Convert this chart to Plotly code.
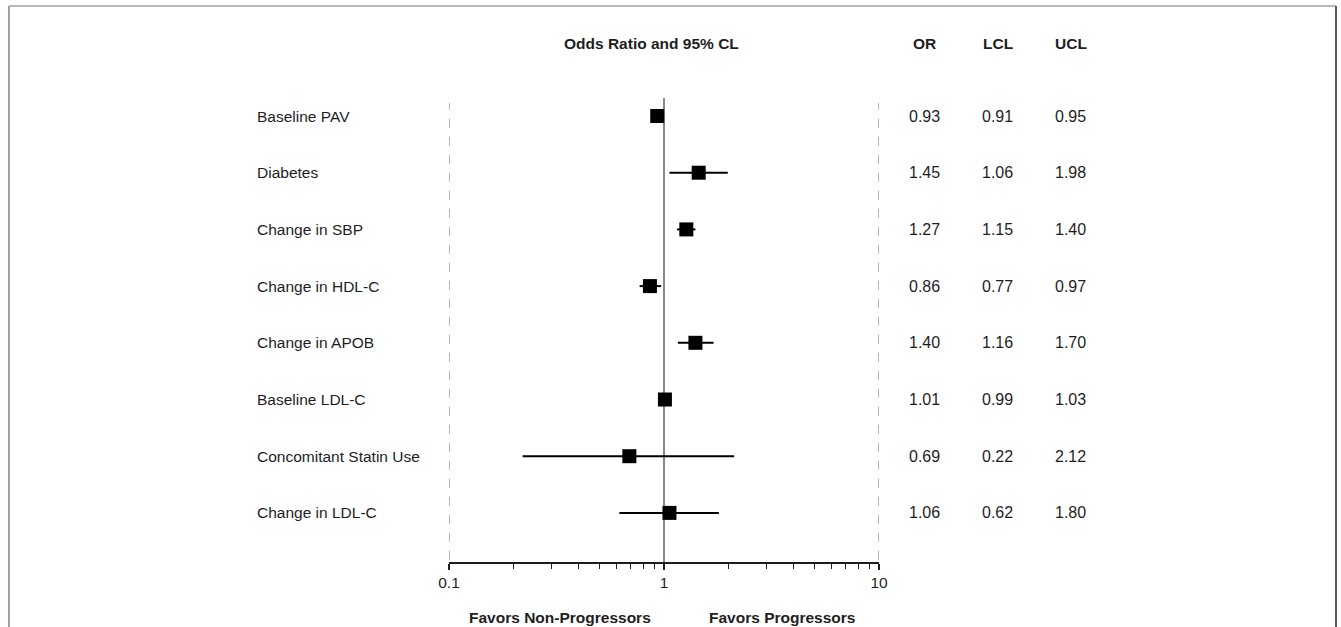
import plotly.graph_objects as go

labels = ["Baseline PAV", "Diabetes", "Change in SBP", "Change in HDL-C",
          "Change in APOB", "Baseline LDL-C", "Concomitant Statin Use", "Change in LDL-C"]
odds_ratio = [0.93, 1.45, 1.27, 0.86, 1.40, 1.01, 0.69, 1.06]
lcl = [0.91, 1.06, 1.15, 0.77, 1.16, 0.99, 0.22, 0.62]
ucl = [0.95, 1.98, 1.40, 0.97, 1.70, 1.03, 2.12, 1.80]
tick_vals = [0.1, 1, 10]
tick_text = ["0.1", "1", "10"]
minor_vals = [0.2, 0.3, 0.4, 0.5, 0.6, 0.7, 0.8, 0.9, 2, 3, 4, 5, 6, 7, 8, 9]
dashed_refs = [0.1, 10]
null_ref = 1
header = "Odds Ratio and 95% CL"
col_headers = ["OR", "LCL", "UCL"]
favors = ["Favors Non-Progressors", "Favors Progressors"]

rows = list(range(len(labels)))
FONT = "Liberation Sans, Arial, sans-serif"
TXT = "#1e1e1e"
LBL = 15.5
NUM = 16

fig = go.Figure()
fig.add_trace(go.Scatter(
    x=odds_ratio, y=rows, mode="markers",
    marker=dict(symbol="square", size=14, color="black"),
    error_x=dict(type="data", symmetric=False,
                 array=[u - o for u, o in zip(ucl, odds_ratio)],
                 arrayminus=[o - l for o, l in zip(odds_ratio, lcl)],
                 width=0, thickness=2, color="black"),
    showlegend=False, hoverinfo="skip"))

shapes = []
for v in dashed_refs:
    shapes.append(dict(type="line", xref="x", yref="paper", x0=v, x1=v, y0=0.005, y1=0.9725,
                       line=dict(color="#8a8a8a", width=1.3, dash="dash"), layer="below"))
shapes.append(dict(type="line", xref="x", yref="paper", x0=null_ref, x1=null_ref, y0=0, y1=0.983,
                   line=dict(color="#888888", width=2), layer="below"))
# outer frame
shapes.append(dict(type="line", xref="paper", yref="paper", x0=-1.0233, x1=-1.0233, y0=-0.3, y1=1.178,
                   line=dict(color="#a0a0a0", width=2)))
shapes.append(dict(type="line", xref="paper", yref="paper", x0=-1.0233, x1=2.0628, y0=1.178, y1=1.178,
                   line=dict(color="#a0a0a0", width=1.5)))
shapes.append(dict(type="line", xref="paper", yref="paper", x0=2.0628, x1=2.0628, y0=-0.3, y1=1.178,
                   line=dict(color="#5a5a5a", width=2)))

annotations = []
for i, lab in enumerate(labels):
    annotations.append(dict(x=-0.4515, y=i, xref="paper", yref="y", text=lab, showarrow=False,
                            xanchor="left", yanchor="middle", font=dict(size=LBL, color=TXT, family=FONT)))
col_x = [1.1047, 1.2767, 1.4465]
for cx, colvals in zip(col_x, [odds_ratio, lcl, ucl]):
    for i, v in enumerate(colvals):
        annotations.append(dict(x=cx, y=i, xref="paper", yref="y", text=f"{v:.2f}", showarrow=False,
                                xanchor="center", yanchor="middle", font=dict(size=NUM, color=TXT, family=FONT)))
for cx, h in zip(col_x, col_headers):
    annotations.append(dict(x=cx, y=1.0975, xref="paper", yref="paper", text=f"<b>{h}</b>", showarrow=False,
                            xanchor="center", yanchor="middle", font=dict(size=LBL, color=TXT, family=FONT)))
annotations.append(dict(x=0.472, y=1.0975, xref="paper", yref="paper", text=f"<b>{header}</b>", showarrow=False,
                        xanchor="center", yanchor="middle", font=dict(size=LBL, color=TXT, family=FONT)))
annotations.append(dict(x=0.2581, y=-0.1186, xref="paper", yref="paper", text=f"<b>{favors[0]}</b>", showarrow=False,
                        xanchor="center", yanchor="middle", font=dict(size=LBL, color=TXT, family=FONT)))
annotations.append(dict(x=0.7744, y=-0.1186, xref="paper", yref="paper", text=f"<b>{favors[1]}</b>", showarrow=False,
                        xanchor="center", yanchor="middle", font=dict(size=LBL, color=TXT, family=FONT)))

fig.update_layout(
    width=1341, height=627,
    margin=dict(l=449, r=462, t=90, b=65),
    paper_bgcolor="white", plot_bgcolor="white",
    xaxis=dict(type="log", range=[-1, 1], tickvals=tick_vals, ticktext=tick_text,
               showgrid=False, zeroline=False, showline=True, linecolor="#1e1e1e", linewidth=1.5,
               ticks="outside", ticklen=6, tickwidth=1.5, tickcolor="#1e1e1e",
               tickfont=dict(size=LBL, color=TXT, family=FONT),
               minor=dict(tickvals=minor_vals, ticks="outside", ticklen=5, tickwidth=1.2,
                          tickcolor="#1e1e1e", showgrid=False)),
    yaxis=dict(range=[7.866, -0.4586], showgrid=False, zeroline=False, showline=False,
               showticklabels=False, ticks=""),
    shapes=shapes, annotations=annotations,
)
fig.write_html("out.html", config={"displayModeBar": False},
               post_script="document.body.style.margin='0';document.body.style.overflow='hidden';")
